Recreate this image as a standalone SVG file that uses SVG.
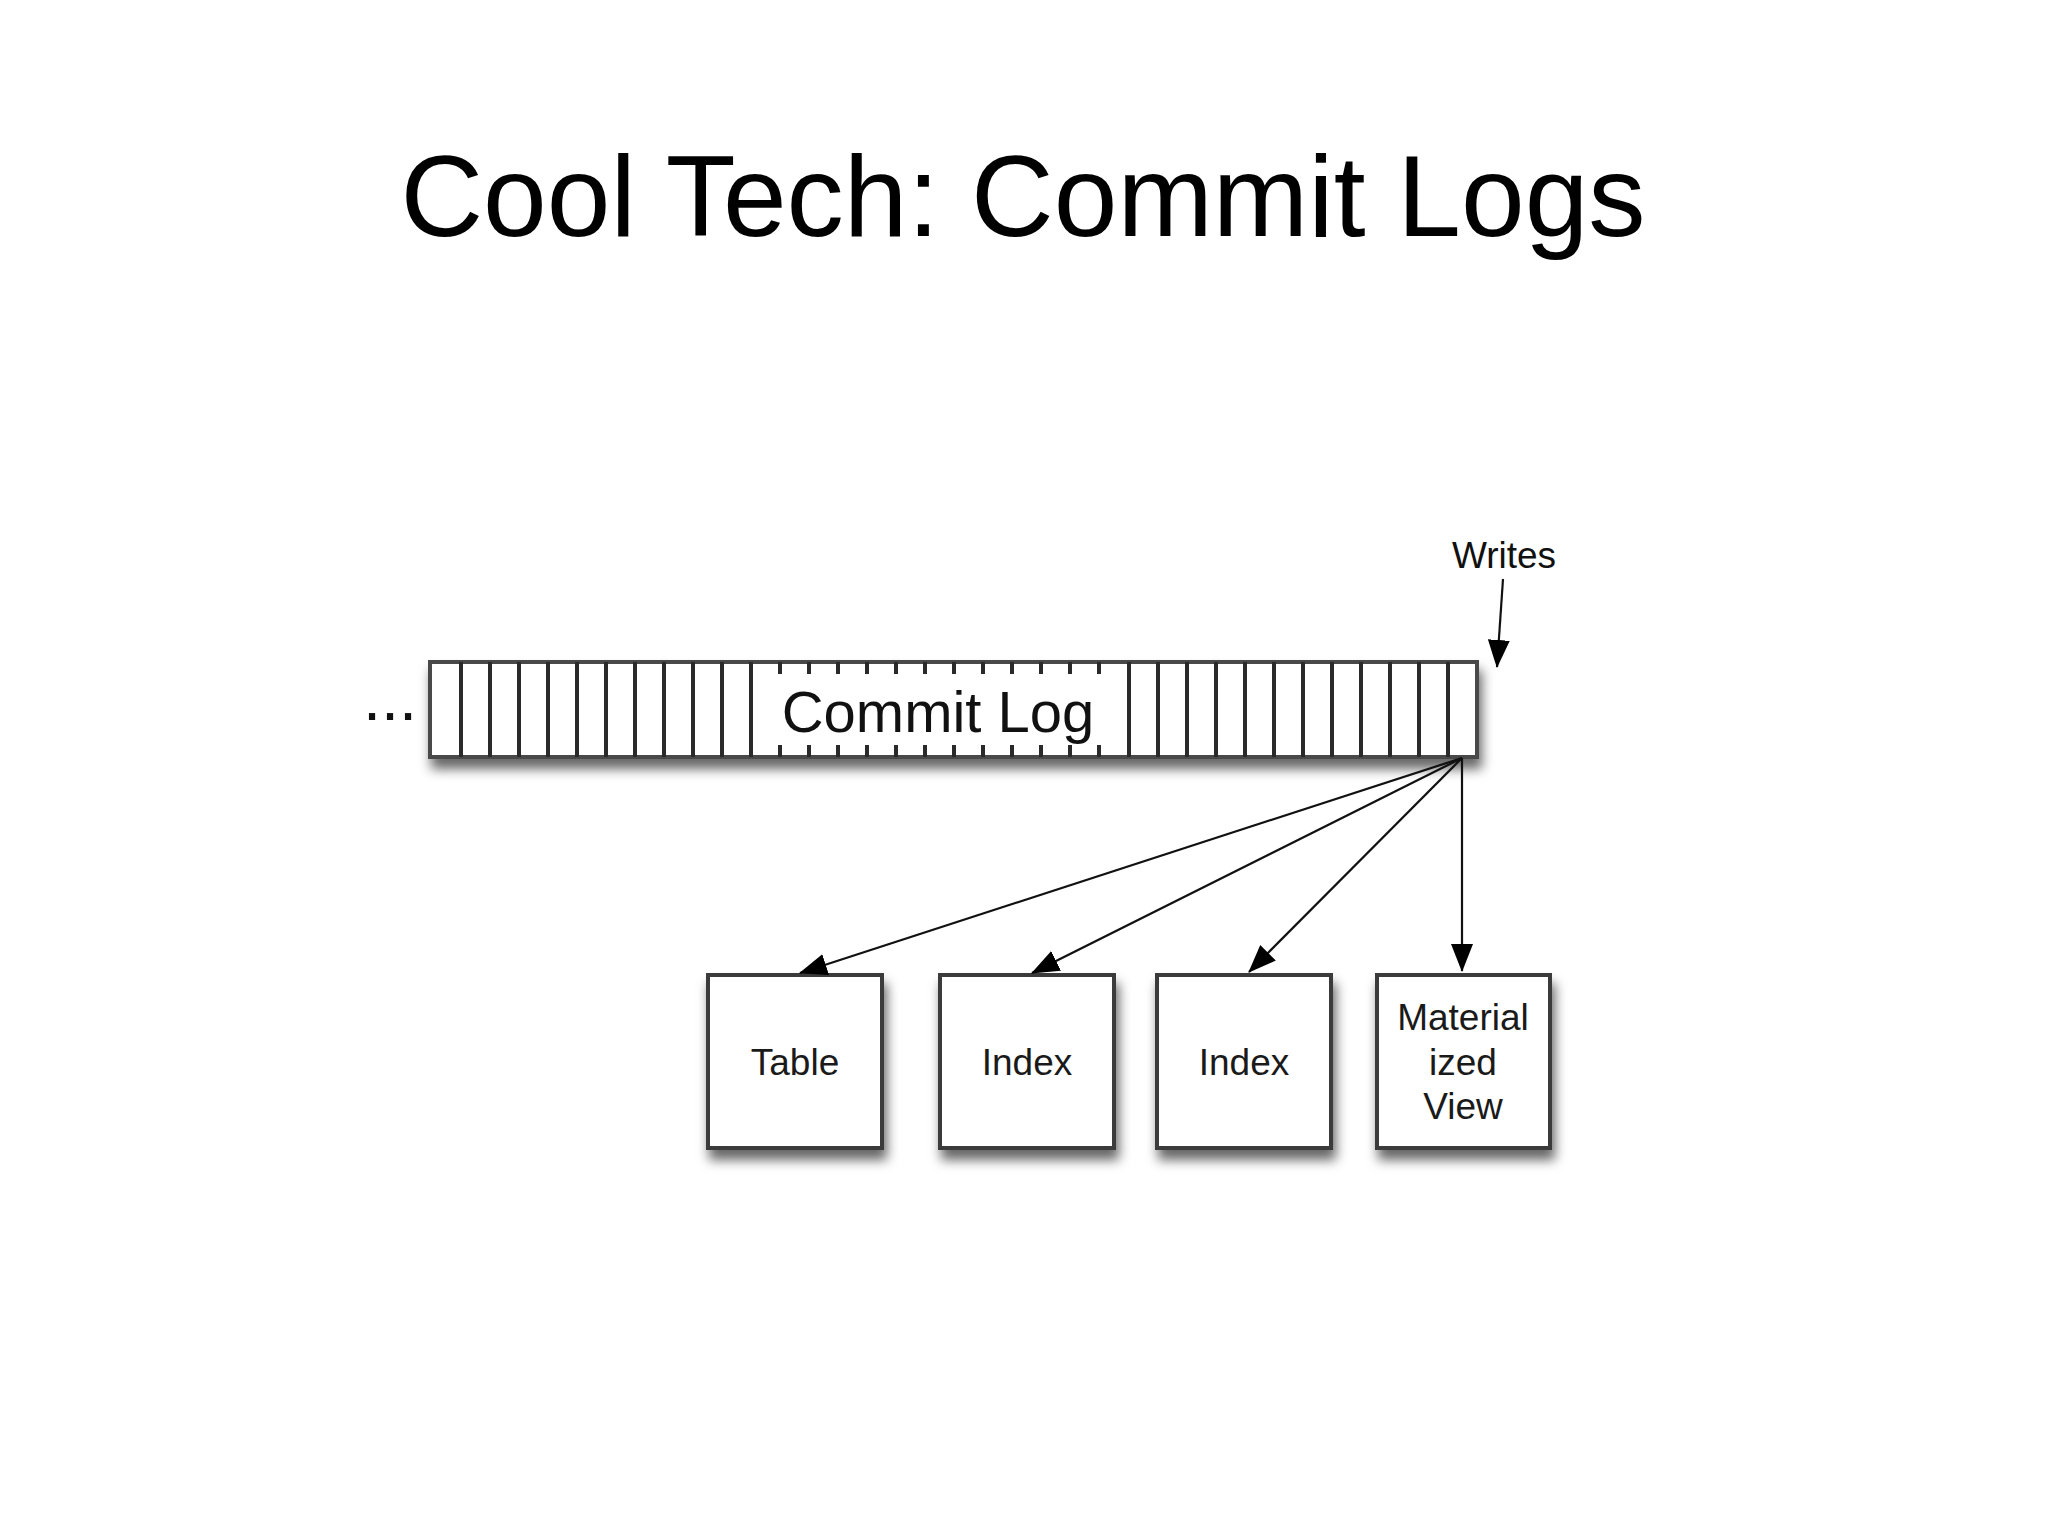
<svg xmlns="http://www.w3.org/2000/svg" width="2048" height="1535" viewBox="0 0 2048 1535">
<defs>
<style>
text{font-family:"Liberation Sans",Arial,Helvetica,sans-serif;fill:#111}
.title{font-size:114.5px;fill:#000}
.lbl{font-size:37px;text-anchor:middle;fill:#1a1a1a}
.box{fill:#fff;stroke:#3a3a3a;stroke-width:4}
.cell{stroke:#2a2a2a;stroke-width:4}
.tick{stroke:#2a2a2a;stroke-width:4}
.conn{stroke:#111;stroke-width:2.2;fill:none;marker-end:url(#ah)}
</style>
<filter id="sh" x="-10%" y="-20%" width="120%" height="170%">
<feDropShadow dx="3" dy="10" stdDeviation="6" flood-color="#000" flood-opacity="0.6"/>
</filter>
<marker id="ah" markerUnits="userSpaceOnUse" markerWidth="28" markerHeight="22" refX="27" refY="11" orient="auto">
<path d="M0,0 L28,11 L0,22 z" fill="#000"/>
</marker>
</defs>
<rect width="2048" height="1535" fill="#fff"/>
<text class="title" x="1023" y="236" text-anchor="middle">Cool Tech: Commit Logs</text>

<g id="commit-log">
<rect x="430" y="662" width="1047" height="95" fill="#fff" stroke="#4a4a4a" stroke-width="4" filter="url(#sh)"/>
<g class="cell">
<line x1="461" y1="662" x2="461" y2="757"/>
<line x1="490" y1="662" x2="490" y2="757"/>
<line x1="519" y1="662" x2="519" y2="757"/>
<line x1="548" y1="662" x2="548" y2="757"/>
<line x1="577" y1="662" x2="577" y2="757"/>
<line x1="606" y1="662" x2="606" y2="757"/>
<line x1="635" y1="662" x2="635" y2="757"/>
<line x1="664" y1="662" x2="664" y2="757"/>
<line x1="693" y1="662" x2="693" y2="757"/>
<line x1="722" y1="662" x2="722" y2="757"/>
<line x1="751" y1="662" x2="751" y2="757"/>
<line x1="1129" y1="662" x2="1129" y2="757"/>
<line x1="1158" y1="662" x2="1158" y2="757"/>
<line x1="1187" y1="662" x2="1187" y2="757"/>
<line x1="1216" y1="662" x2="1216" y2="757"/>
<line x1="1245" y1="662" x2="1245" y2="757"/>
<line x1="1274" y1="662" x2="1274" y2="757"/>
<line x1="1303" y1="662" x2="1303" y2="757"/>
<line x1="1332" y1="662" x2="1332" y2="757"/>
<line x1="1361" y1="662" x2="1361" y2="757"/>
<line x1="1390" y1="662" x2="1390" y2="757"/>
<line x1="1419" y1="662" x2="1419" y2="757"/>
<line x1="1448" y1="662" x2="1448" y2="757"/>
</g>
<g class="tick">
<path d="M780,662v12M809,662v12M838,662v12M867,662v12M896,662v12M925,662v12M954,662v12M983,662v12M1012,662v12M1041,662v12M1070,662v12M1099,662v12"/>
<path d="M780,745v12M809,745v12M838,745v12M867,745v12M896,745v12M925,745v12M954,745v12M983,745v12M1012,745v12M1041,745v12M1070,745v12M1099,745v12"/>
</g>
<text x="938" y="732" font-size="58" text-anchor="middle">Commit Log</text>
</g>

<g id="ellipsis"><text x="390" y="720" font-size="65" text-anchor="middle">...</text></g>
<g id="writes"><text x="1504" y="568" font-size="37" text-anchor="middle" fill="#1a1a1a">Writes</text></g>

<g id="node-table"><rect class="box" x="708" y="975" width="174" height="173" filter="url(#sh)"/><text class="lbl" x="795" y="1075">Table</text></g>
<g id="node-index1"><rect class="box" x="940" y="975" width="174" height="173" filter="url(#sh)"/><text class="lbl" x="1027" y="1075">Index</text></g>
<g id="node-index2"><rect class="box" x="1157" y="975" width="174" height="173" filter="url(#sh)"/><text class="lbl" x="1244" y="1075">Index</text></g>
<g id="node-mview"><rect class="box" x="1377" y="975" width="173" height="173" filter="url(#sh)"/>
<text class="lbl" x="1463" y="1030">Material</text><text class="lbl" x="1463" y="1075">ized</text><text class="lbl" x="1463" y="1119">View</text></g>

<g id="connectors">
<line class="conn" x1="1503" y1="579" x2="1497" y2="667"/>
<line class="conn" x1="1462" y1="758" x2="800" y2="973"/>
<line class="conn" x1="1462" y1="758" x2="1032" y2="973"/>
<line class="conn" x1="1462" y1="758" x2="1249" y2="972"/>
<line class="conn" x1="1462" y1="758" x2="1462" y2="971"/>
</g>
</svg>
